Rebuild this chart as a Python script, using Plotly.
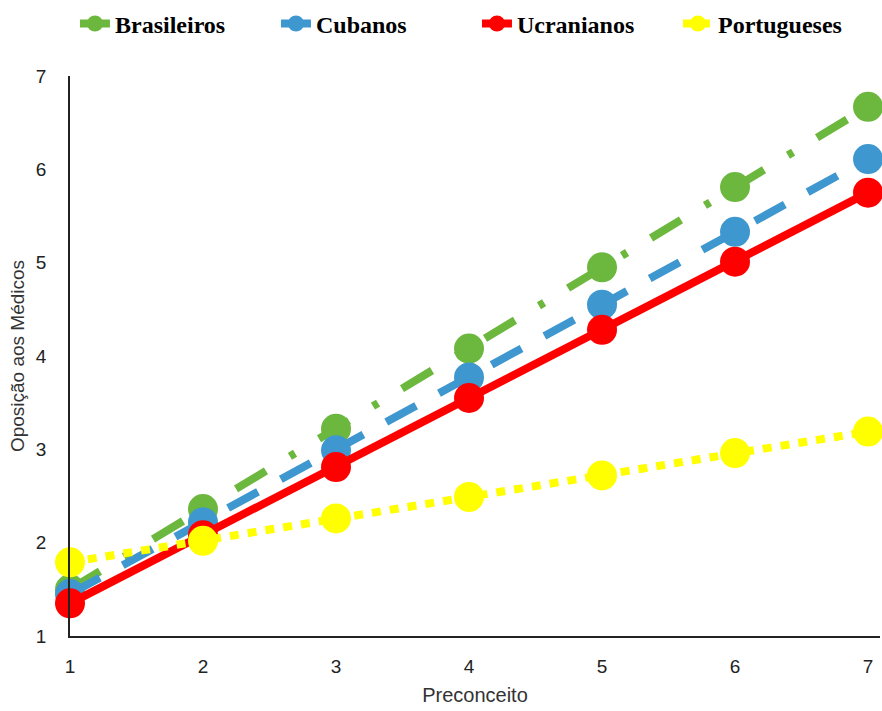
import plotly.graph_objects as go

# Preconceito levels (x) and mean opposition per group (y)
preconceito = [1, 2, 3, 4, 5, 6, 7]
brasileiros = [1.50, 2.36, 3.22, 4.08, 4.95, 5.81, 6.67]
cubanos = [1.45, 2.22, 2.99, 3.77, 4.55, 5.33, 6.11]
ucranianos = [1.35, 2.08, 2.81, 3.55, 4.28, 5.01, 5.75]
portugueses = [1.79, 2.02, 2.26, 2.49, 2.72, 2.96, 3.19]

series = [
    ("Brasileiros", brasileiros, "#6cb83f", "35px,28px,6px,28px"),
    ("Cubanos", cubanos, "#3f97cf", "34px,26px"),
    ("Ucranianos", ucranianos, "#ff0000", "solid"),
    ("Portugueses", portugueses, "#ffff00", "9px,9px"),
]

fig = go.Figure()
for name, vals, color, dash in series:
    fig.add_trace(go.Scatter(
        x=preconceito, y=vals, name=name, mode="lines+markers",
        line=dict(color=color, width=8, dash=dash),
        marker=dict(color=color, size=30),
        cliponaxis=False,
    ))

tick_font = dict(family="Liberation Sans Narrow, Liberation Sans, Arial", size=19, color="#222")

fig.update_layout(
    width=882, height=711,
    margin=dict(l=70, r=2, t=76, b=75, autoexpand=False),
    paper_bgcolor="white", plot_bgcolor="white",
    showlegend=True,
    legend=dict(
        orientation="h", xref="container", yref="container",
        x=0.085, y=0.998, xanchor="left", yanchor="top",
        font=dict(family="Liberation Serif, Times New Roman", size=24, color="black", weight="bold"),
        entrywidth=156, entrywidthmode="pixels", tracegroupgap=0,
    ),
    xaxis=dict(
        range=[1, 7.09], tickvals=preconceito, ticks="", showgrid=False, zeroline=False,
        showline=True, linecolor="#222", linewidth=1.5,
        tickfont=tick_font, ticklabelstandoff=12,
        title=dict(text="Preconceito", font=dict(family="Liberation Sans Narrow, Liberation Sans, Arial", size=20, color="#333"), standoff=12),
    ),
    yaxis=dict(
        range=[1, 7], tickvals=[1, 2, 3, 4, 5, 6, 7], ticks="", showgrid=False, zeroline=False,
        showline=True, linecolor="#222", linewidth=1.5,
        tickfont=tick_font, ticklabelstandoff=18,
        title=dict(text="Oposição aos Médicos", font=dict(family="Liberation Sans, Arial", size=19, color="#333"), standoff=6),
    ),
)

fig.write_html("out.html")
